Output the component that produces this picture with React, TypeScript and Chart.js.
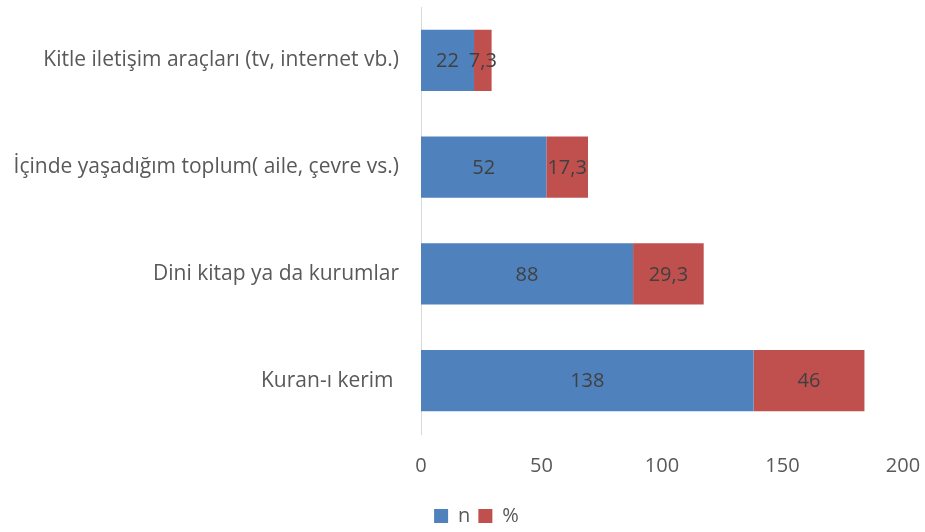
import React, { useEffect, useRef } from "react";
import { Chart, registerables } from "chart.js";

Chart.register(...registerables);

const categories = [
  "Kitle iletişim araçları (tv, internet vb.)",
  "İçinde yaşadığım toplum( aile, çevre vs.)",
  "Dini kitap ya da kurumlar",
  "Kuran-ı kerim ",
];
const nValues = [22, 52, 88, 138];
const pctValues = [7.3, 17.3, 29.3, 46];
const seriesNames = ["n", "%"];
const seriesColors = ["#4F81BD", "#C0504D"];
const xMin = 0;
const xMax = 200;
const xStep = 50;

const FONT = "'Open Sans'";
const FS = 20;

const dataLabelPlugin = {
  id: "dataLabels",
  afterLayout(chart: any) {
    if (chart.legend) {
      chart.legend.left = 50;
      chart.legend.top += 4;
      chart.legend.bottom += 4;
    }
  },
  afterDatasetsDraw(chart: any) {
    const ctx = chart.ctx;
    ctx.save();
    ctx.font = `${FS}px ${FONT}`;
    ctx.fillStyle = "#404040";
    ctx.textAlign = "center";
    ctx.textBaseline = "middle";
    chart.data.datasets.forEach((ds: any, di: number) => {
      const meta = chart.getDatasetMeta(di);
      meta.data.forEach((el: any, i: number) => {
        const v = ds.data[i];
        const props = el.getProps(["x", "y", "base"], true);
        const cx = (props.x + props.base) / 2;
        ctx.fillText(String(v).replace(".", ","), cx, props.y + 1);
      });
    });
    ctx.restore();
  },
};

export default function App() {
  const ref = useRef<HTMLCanvasElement | null>(null);
  useEffect(() => {
    if (!ref.current) return;
    const chart = new Chart(ref.current, {
      type: "bar",
      data: {
        labels: categories,
        datasets: [
          {
            label: seriesNames[0],
            data: nValues,
            backgroundColor: seriesColors[0],
            categoryPercentage: 1,
            barPercentage: 0.575,
          },
          {
            label: seriesNames[1],
            data: pctValues,
            backgroundColor: seriesColors[1],
            categoryPercentage: 1,
            barPercentage: 0.575,
          },
        ],
      },
      options: {
        indexAxis: "y",
        animation: false,
        responsive: false,
        maintainAspectRatio: false,
        layout: { padding: { top: 7, right: 22, left: 0, bottom: 0 } },
        scales: {
          x: {
            stacked: true,
            min: xMin,
            max: xMax,
            ticks: {
              stepSize: xStep,
              color: "#595959",
              font: { family: FONT, size: FS },
              padding: 20,
            },
            grid: { display: false, drawTicks: false },
            border: { display: false },
            afterFit: (s: any) => {
              s.height = 60;
              s.paddingLeft = 0;
              s.paddingRight = 0;
            },
          },
          y: {
            stacked: true,
            ticks: {
              color: "#595959",
              font: { family: FONT, size: 21 },
              padding: 22,
            },
            grid: { display: false, drawTicks: false },
            border: { display: true, color: "#D9D9D9", width: 1 },
            afterFit: (s: any) => {
              s.width = 421;
              s.paddingTop = 0;
              s.paddingBottom = 0;
            },
          },
        },
        plugins: {
          legend: {
            position: "bottom",
            labels: {
              color: "#595959",
              font: { family: FONT, size: FS, lineHeight: 1 },
              boxWidth: 14,
              boxHeight: 14,
              padding: 8,
            },
          },
          tooltip: { enabled: false },
        },
      },
      plugins: [dataLabelPlugin],
    });
    return () => chart.destroy();
  }, []);
  return (
    <div style={{ position: "absolute", left: 0, top: 0, width: 925, height: 532, background: "#fff" }}>
      <canvas ref={ref} width={925} height={532} style={{ width: 925, height: 532 }} />
    </div>
  );
}
